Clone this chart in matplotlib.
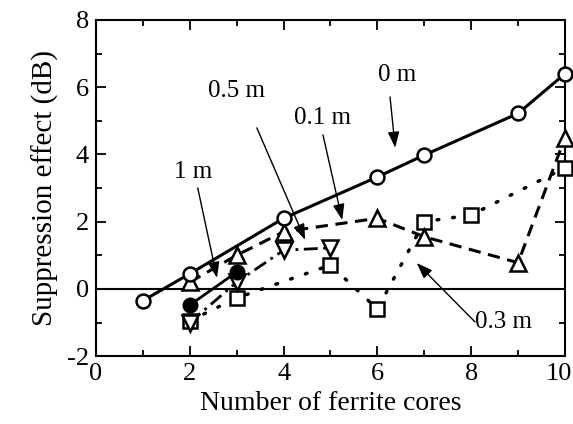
import matplotlib
matplotlib.use("Agg")
import matplotlib.pyplot as plt
import matplotlib.transforms as mtransforms

plt.rcParams['font.family'] = ['Liberation Serif', 'DejaVu Serif']
plt.rcParams['axes.unicode_minus'] = False

# data
x_0m = [1, 2, 4, 6, 7, 9, 10]
y_0m = [-0.35, 0.45, 2.1, 3.33, 3.98, 5.22, 6.4]

x_01m = [2, 3, 4, 6, 7, 9, 10]
y_01m = [0.2, 1.0, 1.7, 2.1, 1.55, 0.78, 4.5]

x_03m = [2, 3, 5, 6, 7, 8, 10]
y_03m = [-0.95, -0.27, 0.71, -0.6, 2.0, 2.2, 3.6]

x_05m = [2, 3, 4, 5]
y_05m = [-1.0, 0.2, 1.15, 1.22]

x_1m = [2, 3]
y_1m = [-0.48, 0.5]

fig = plt.figure(figsize=(5.73, 4.24), dpi=100)
ax = fig.add_axes([0.1675, 0.16, 0.8185, 0.793])

ax.axhline(0, color='k', lw=1.5, zorder=1)

ax.plot(x_03m, y_03m, color='k', lw=2.5, linestyle=(0, (0.5, 4)), dash_capstyle='round',
        marker='s', ms=10, mfc='white', mec='k', mew=1.8, clip_on=False, zorder=3)
ax.plot(x_05m, y_05m, color='k', lw=2, linestyle=(0, (5, 2, 1, 2)),
        marker='v', ms=11, mfc='white', mec='k', mew=1.8, clip_on=False, zorder=4)
ax.plot(x_01m, y_01m, color='k', lw=2.2, linestyle=(0, (4, 2.5)),
        marker='^', ms=11, mfc='white', mec='k', mew=1.8, clip_on=False, zorder=4)
ax.plot(x_1m, y_1m, color='k', lw=2, linestyle='-',
        marker='o', ms=10, mfc='k', mec='k', mew=1.5, clip_on=False, zorder=5)
ax.plot(x_0m, y_0m, color='k', lw=2.2, linestyle='-',
        marker='o', ms=10, mfc='white', mec='k', mew=1.8, clip_on=False, zorder=5)

ax.set_xlim(0, 10)
ax.set_ylim(-2, 8)
ax.set_xticks([0, 2, 4, 6, 8, 10])
ax.set_xticks([1, 3, 5, 7, 9], minor=True)
ax.set_yticks([-2, 0, 2, 4, 6, 8])
ax.set_yticks([-1, 1, 3, 5, 7], minor=True)
ax.tick_params(which='both', direction='in', top=True, right=True, width=1.3)
ax.tick_params(which='major', length=7, labelsize=19, pad=5)
ax.tick_params(which='minor', length=4)
for s in ax.spines.values():
    s.set_linewidth(1.5)

# keep the "10" label inside the figure
last = ax.get_xticklabels()[-1]
last.set_transform(last.get_transform() + mtransforms.ScaledTranslation(-0.06, 0, fig.dpi_scale_trans))

ax.set_xlabel('Number of ferrite cores', fontsize=20, labelpad=4)
ax.set_ylabel('Suppression effect (dB)', fontsize=21, labelpad=6)

arrow = dict(arrowstyle='-|>,head_length=0.6,head_width=0.22', color='k', lw=1,
             mutation_scale=16, shrinkA=0, shrinkB=0)

ax.text(6.42, 6.37, '0 m', fontsize=18, ha='center', va='center')
ax.annotate('', xy=(6.38, 4.2), xytext=(6.27, 5.71), arrowprops=arrow)

ax.text(2.99, 5.89, '0.5 m', fontsize=18, ha='center', va='center')
ax.annotate('', xy=(4.46, 1.46), xytext=(3.43, 4.79), arrowprops=arrow)

ax.text(4.82, 5.09, '0.1 m', fontsize=18, ha='center', va='center')
ax.annotate('', xy=(5.25, 2.05), xytext=(4.84, 4.58), arrowprops=arrow)

ax.text(2.07, 3.48, '1 m', fontsize=18, ha='center', va='center')
ax.annotate('', xy=(2.58, 0.33), xytext=(2.17, 3.0), arrowprops=arrow)

ax.text(8.08, -0.97, '0.3 m', fontsize=18, ha='left', va='center')
ax.annotate('', xy=(6.84, 0.77), xytext=(8.08, -0.98), arrowprops=arrow)

fig.savefig('out.png', dpi=100)
